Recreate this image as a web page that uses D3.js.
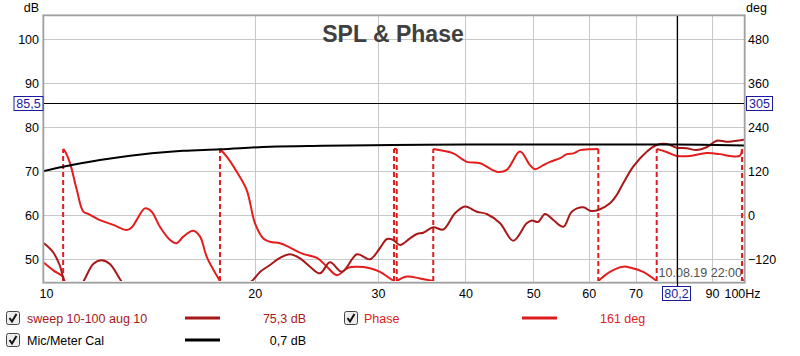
<!DOCTYPE html>
<html><head><meta charset="utf-8">
<script src="https://cdn.jsdelivr.net/npm/d3@7"></script>
<style>body{margin:0;background:#fff}svg{display:block}text{font-family:"Liberation Sans",Arial,sans-serif}</style>
</head><body><svg id="c" width="800" height="356"></svg>
<script>
// ---- data ----
const title = "SPL & Phase";
const dbTicks = [50, 60, 70, 80, 90, 100];
const degTicks = [-120, 0, 120, 240, 360, 480];
const freqTicks = [10, 20, 30, 40, 50, 60, 70, 90, 100];   // 80 is covered by the cursor readout
const freqGrid = [20, 30, 40, 50, 60, 70, 80, 90];

const calFreq = [10, 10.65, 12.02, 14.25, 15.8, 17.84, 21.03, 25, 31.5, 40, 50, 60, 80, 100];
const calDb   = [70.0, 70.98, 72.5, 74.02, 74.6, 74.93, 75.52, 75.73, 75.91, 76.0, 76.0, 76.0, 76.0, 75.8];

const sweepFreq = [10.0, 10.31, 10.54, 10.68, 11.0, 11.38, 11.76, 12.09, 12.42, 12.91, 13.6, 15.0, 17.0, 18.8, 19.37, 19.82,
  20.35, 21.03, 21.73, 22.46, 23.21, 23.99, 24.79, 25.62, 26.65, 28.0, 29.22, 30.2, 30.9, 31.55, 32.26, 33.33, 34.1, 34.82,
  35.98, 37.19, 38.65, 39.95, 41.52, 42.91, 44.83, 46.82, 48.93, 49.78, 50.79, 51.97, 53.41, 55.21, 56.75, 58.96, 60.26,
  61.92, 64.35, 65.79, 67.21, 69.46, 72.61, 75.04, 77.55, 80.13, 82.79, 85.56, 88.42, 91.41, 94.47, 99.34, 100];
const sweepDb = [53.57, 51.48, 48.41, 45.23, 41.5, 44.84, 48.86, 49.7, 48.86, 44.84, 40, 37.5, 37.5, 41.5, 44.0, 45.0,
  47.05, 48.64, 50.23, 51.07, 50.16, 48.25, 46.75, 49.25, 47.1, 51.07, 49.93, 52.5, 54.55, 54.32, 53.18, 54.7, 55.68, 55.98,
  57.2, 56.7, 60.39, 61.93, 60.75, 60.23, 58.11, 54.16, 58.11, 58.75, 58.41, 60.23, 58.86, 57.34, 60.75, 61.75, 60.98,
  61.14, 62.66, 64.55, 67.2, 70.98, 74.39, 75.91, 76.14, 75.3, 75.16, 74.77, 75.39, 76.89, 76.66, 77.05, 77.1];

const phaseFreq = [10.0, 10.31, 10.64, 10.65, 10.65, 10.70, 10.89, 11.14, 11.38, 11.57, 12.02, 12.56, 13.13, 13.34, 13.56,
  13.94, 14.25, 14.64, 15.14, 15.47, 15.81, 16.34, 16.71, 17.08, 17.84, 17.84, 18.24, 18.85, 19.48, 20.02, 20.57, 21.03,
  21.73, 22.46, 23.44, 24.55, 25.36, 26.21, 27.18, 28.0, 29.22, 30.2, 31.21, 31.62, 31.62, 31.91, 31.91, 32.97, 34.44,
  35.98, 35.98, 37.19, 38.44, 40.18, 41.97, 44.35, 45.81, 47.86, 49.46, 50.28, 51.68, 52.83, 54.61, 55.83, 57.05, 58.32,
  59.93, 61.92, 61.92, 64.35, 67.21, 68.71, 71.78, 75.04, 75.04, 77.55, 80.13, 83.70, 88.42, 92.41, 95.50, 98.69, 99.34,
  99.34, 100];
const phaseDeg = [-130, -151, -169, -180, 180, 176, 142, 68, 9, 3, -14, -27, -41, -34, -14,
  18, 9, -32, -68, -77, -59, -43, -59, -114, -180, 180, 159, 118, 68, -23, -64, -73,
  -77, -89, -106, -117, -141, -164, -144, -141, -145, -155, -173, -180, 180, 180, -180, -168, -173,
  -180, 180, 175, 168, 145, 141, 118, 123, 173, 136, 125, 136, 145, 155, 166, 168, 177,
  179, 180, -180, -155, -141, -143, -155, -180, 180, 172, 161, 161, 169, 166, 161, 162, 180,
  -180, -176];

const cursorFreq = 80.2, cursorDb = 85.5, cursorDeg = 305;
const stamp = "10.08.19 22:00";
const legendRows = [
  [{name: "sweep 10-100 aug 10", value: "75,3 dB", color: "#a81818", text: "#a81818"},
   {name: "Phase", value: "161 deg", color: "#dc1c1c", text: "#e02020"}],
  [{name: "Mic/Meter Cal", value: "0,7 dB", color: "#000000", text: "#000000"}]
];

// ---- layout ----
const X0 = 44, X1 = 744, Y0 = 16, Y1 = 282;
const svg = d3.select("#c");
const x = d3.scaleLog().domain([10, 100]).range([X0, X1]);
const yDb = d3.scaleLinear().domain([50, 100]).range([259, 39]);
const yDeg = d3.scaleLinear().domain([-120, 480]).range([259, 39]);
const FONT = "12.5px";
const SWEEP = "#a81818", PHASE = "#e41c1c";

svg.append("rect").attr("x", X0).attr("y", Y0).attr("width", X1 - X0).attr("height", Y1 - Y0).attr("fill", "#fff");

// grid
const grid = svg.append("g").attr("stroke", "#c8c8c8").attr("stroke-width", 1);
grid.selectAll("line.h").data(dbTicks).join("line").attr("class", "h")
  .attr("x1", X0).attr("x2", X1).attr("y1", d => Math.round(yDb(d)) + 0.5).attr("y2", d => Math.round(yDb(d)) + 0.5);
grid.selectAll("line.v").data(freqGrid).join("line").attr("class", "v")
  .attr("y1", Y0).attr("y2", Y1).attr("x1", d => Math.round(x(d)) + 0.5).attr("x2", d => Math.round(x(d)) + 0.5);

// title
svg.append("text").attr("x", 393).attr("y", 42).attr("text-anchor", "middle")
  .attr("font-size", "23px").attr("font-weight", "bold").attr("fill", "#404040").text(title);

// clip
svg.append("clipPath").attr("id", "clip").append("rect")
  .attr("x", X0).attr("y", Y0).attr("width", X1 - X0).attr("height", Y1 - Y0 - 1);
const plot = svg.append("g").attr("clip-path", "url(#clip)");

// phase with wraps
const ph = phaseFreq.map((f, i) => ({f, v: phaseDeg[i]}));
const segs = [[ph[0]]], wraps = [];
for (let i = 1; i < ph.length; i++) {
  if (Math.abs(ph[i].v - ph[i - 1].v) > 180) {
    wraps.push({f: ph[i].f, a: ph[i - 1].v, b: ph[i].v});
    segs.push([ph[i]]);
  } else segs[segs.length - 1].push(ph[i]);
}
const lineDeg = d3.line().x(d => x(d.f)).y(d => yDeg(d.v)).curve(d3.curveCatmullRom.alpha(0.5));
plot.selectAll("path.ph").data(segs).join("path").attr("class", "ph")
  .attr("d", lineDeg).attr("fill", "none").attr("stroke", PHASE).attr("stroke-width", 2);
plot.selectAll("line.wr").data(wraps).join("line").attr("class", "wr")
  .attr("x1", d => x(d.f)).attr("x2", d => x(d.f)).attr("y1", d => yDeg(d.a)).attr("y2", d => yDeg(d.b))
  .attr("stroke", PHASE).attr("stroke-width", 2).attr("stroke-dasharray", "5,3");

// sweep
const lineDb = d3.line().x(d => x(d[0])).y(d => yDb(d[1])).curve(d3.curveCatmullRom.alpha(0.5));
plot.append("path").attr("d", lineDb(sweepFreq.map((f, i) => [f, sweepDb[i]])))
  .attr("fill", "none").attr("stroke", SWEEP).attr("stroke-width", 2);

// cal
plot.append("path").attr("d", lineDb(calFreq.map((f, i) => [f, calDb[i]])))
  .attr("fill", "none").attr("stroke", "#000").attr("stroke-width", 2);

// frame
svg.append("rect").attr("x", X0 - 1.5).attr("y", Y0 - 1.5).attr("width", X1 - X0 + 3).attr("height", Y1 - Y0 + 3)
  .attr("fill", "none").attr("stroke", "#d4d4d4").attr("stroke-width", 1);
svg.append("rect").attr("x", X0 - 0.5).attr("y", Y0 - 0.5).attr("width", X1 - X0 + 1).attr("height", Y1 - Y0 + 1)
  .attr("fill", "none").attr("stroke", "#a0a0a0").attr("stroke-width", 1.5);

// axes
function styleAxis(g) {
  g.select(".domain").remove();
  g.selectAll("text").attr("font-size", FONT).attr("font-family", '"Liberation Sans",Arial,sans-serif').attr("fill", "#000");
}
svg.append("g").attr("transform", `translate(${X0},0)`)
  .call(d3.axisLeft(yDb).tickValues(dbTicks).tickSize(0).tickPadding(5)).call(styleAxis);
svg.append("g").attr("transform", `translate(${X1},0)`)
  .call(d3.axisRight(yDeg).tickValues(degTicks).tickSize(0).tickPadding(4)).call(styleAxis);
const xa = svg.append("g").attr("transform", `translate(0,${Y1})`)
  .call(d3.axisBottom(x).tickValues(freqTicks).tickSize(0).tickPadding(7).tickFormat(d => d === 100 ? "100Hz" : d)).call(styleAxis);
xa.selectAll(".tick").filter(d => d === 100).select("text").attr("dx", "-2");
xa.selectAll(".tick").filter(d => d === 10).select("text").attr("dx", "2");

svg.append("text").attr("x", 39).attr("y", 12).attr("text-anchor", "end").attr("font-size", FONT).text("dB");
svg.append("text").attr("x", 746).attr("y", 12).attr("font-size", FONT).text("deg");

// timestamp
svg.append("text").attr("x", X1 - 2).attr("y", 277).attr("text-anchor", "end")
  .attr("font-size", "12.5px").attr("fill", "#505050").text(stamp);

// cursor
const cx = Math.round(x(cursorFreq)) + 0.5, cy = Math.round(yDb(cursorDb)) + 0.5;
svg.append("line").attr("x1", X0).attr("x2", X1).attr("y1", cy).attr("y2", cy).attr("stroke", "#000").attr("stroke-width", 1.2);
svg.append("line").attr("x1", cx).attr("x2", cx).attr("y1", Y0).attr("y2", 286).attr("stroke", "#000").attr("stroke-width", 1.2);
function box(xc, yc, w, txt) {
  svg.append("rect").attr("x", xc - w / 2).attr("y", yc - 7).attr("width", w).attr("height", 14)
    .attr("fill", "#fff").attr("stroke", "#1a1aa0").attr("stroke-width", 1);
  svg.append("text").attr("x", xc).attr("y", yc + 4.5).attr("text-anchor", "middle")
    .attr("font-size", FONT).attr("fill", "#1a1aa0").text(txt);
}
box(28.5, cy, 29, String(cursorDb).replace(".", ","));
box(759.5, cy, 26, String(cursorDeg));
box(cx - 1, 293.5, 28, String(cursorFreq).replace(".", ","));

// legend
function checkbox(x0, y0) {
  const g = svg.append("g").attr("transform", `translate(${x0},${y0})`);
  g.append("rect").attr("x", 0.5).attr("y", 0.5).attr("width", 13).attr("height", 13).attr("rx", 2)
    .attr("fill", "#ececec").attr("stroke", "#444");
  g.append("path").attr("d", "M3.5,7 L6,10.5 L10.5,3").attr("fill", "none").attr("stroke", "#111").attr("stroke-width", 2);
}
const colX = [{cb: 6, name: 27, l1: 185, l2: 220, val: 306}, {cb: 344, name: 364, l1: 522, l2: 557, val: 600}];
legendRows.forEach((row, r) => {
  const yc = 318 + r * 22;
  row.forEach((it, c) => {
    const p = colX[c];
    checkbox(p.cb, yc - 7);
    svg.append("text").attr("x", p.name).attr("y", yc + 4.5).attr("font-size", FONT).attr("fill", it.text).text(it.name);
    svg.append("line").attr("x1", p.l1).attr("x2", p.l2).attr("y1", yc).attr("y2", yc).attr("stroke", it.color).attr("stroke-width", 3);
    svg.append("text").attr("x", p.val).attr("y", yc + 4.5).attr("font-size", FONT).attr("fill", it.text)
      .attr("text-anchor", c === 0 ? "end" : "start").text(it.value);
  });
});
</script></body></html>
